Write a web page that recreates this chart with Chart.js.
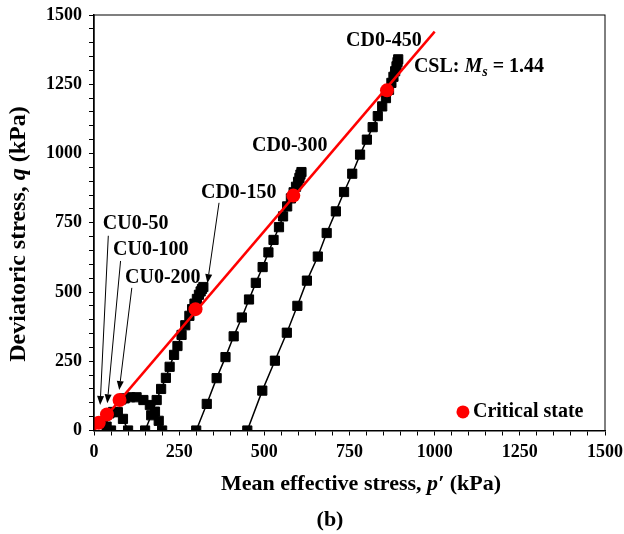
<!DOCTYPE html>
<html>
<head>
<meta charset="utf-8">
<script src="https://cdn.jsdelivr.net/npm/chart.js@4"></script>
<style>
  body { margin: 0; background: #fff; }
</style>
</head>
<body>
<canvas id="c" width="624" height="534"></canvas>
<script>
// stress paths, p' and q in kPa
const cu50P = [50, 37, 26, 18];
const cu50Q = [0, 14, 24, 29];
const cu100P = [100, 85, 70, 56, 45];
const cu100Q = [0, 42, 66, 67, 62];
const cu200P = [200, 190, 179, 164, 145, 125, 106, 90, 80];
const cu200Q = [0, 35, 68, 92, 110, 120, 120, 116, 112];
const cd150P = [150, 168, 184, 197, 211, 222, 235, 245, 257, 268, 280, 288, 295, 302, 308, 313, 317, 321];
const cd150Q = [0, 55, 110, 150, 190, 230, 273, 305, 345, 380, 414, 438, 458, 475, 490, 502, 511, 518];
const cd300P = [300, 331, 360, 386, 410, 434, 455, 475, 495, 512, 527, 543, 555, 567, 578, 586, 593, 599, 603, 606, 609];
const cd300Q = [0, 96, 189, 265, 340, 408, 473, 533, 590, 643, 688, 734, 773, 809, 838, 860, 880, 898, 912, 924, 933];
const cd450P = [450, 494, 531, 566, 597, 625, 657, 683, 710, 734, 758, 781, 801, 818, 833, 846, 857, 866, 873, 879, 884, 888, 891, 893];
const cd450Q = [0, 144, 252, 353, 450, 541, 628, 713, 791, 861, 927, 996, 1050, 1095, 1135, 1170, 1200, 1230, 1255, 1277, 1297, 1315, 1330, 1340];
const critP = [14, 38, 75, 298, 585, 860];
const critQ = [28, 58, 110, 438, 848, 1228];
const cslP = [0, 1000];
const cslQ = [0, 1440];

const axisMax = 1500;
const tickStep = 50;
const labelStep = 250;

// annotation anchors in data units
const pathLabels = [
  { text: 'CU0-50', p: 26, q: 746 },
  { text: 'CU0-100', p: 56, q: 652 },
  { text: 'CU0-200', p: 91, q: 551 },
  { text: 'CD0-150', p: 314, q: 858 },
  { text: 'CD0-300', p: 464, q: 1028 },
  { text: 'CD0-450', p: 740, q: 1408 }
];
const arrows = [
  { from: [42, 703], to: [18, 92] },
  { from: [78, 612], to: [39, 98] },
  { from: [111, 515], to: [74, 146] },
  { from: [367, 822], to: [333, 532] }
];

const serif = "'Liberation Serif', 'Times New Roman', serif";
const zip = (p, q) => p.map((v, i) => ({ x: v, y: q[i] }));

const pathSet = (p, q) => ({
  data: zip(p, q),
  showLine: true,
  borderColor: '#000',
  borderWidth: 1.5,
  backgroundColor: '#000',
  pointStyle: 'rect',
  pointRadius: 6.5,
  pointBorderWidth: 1,
  pointBorderColor: '#000'
});

const drawRuns = (ctx, runs, x, y, align) => {
  let w = 0;
  runs.forEach(r => { ctx.font = r.f; w += ctx.measureText(r.t).width; });
  let cx = align === 'center' ? x - w / 2 : x;
  runs.forEach(r => {
    ctx.font = r.f;
    ctx.fillText(r.t, cx, y + (r.dy || 0));
    cx += ctx.measureText(r.t).width;
  });
};

const decor = {
  id: 'decor',
  afterDraw(chart) {
    const { ctx, chartArea: a, scales: { x, y } } = chart;
    ctx.save();
    // frame
    ctx.strokeStyle = '#000';
    ctx.lineWidth = 1;
    ctx.strokeRect(a.left, a.top, a.right - a.left, a.bottom - a.top);

    ctx.fillStyle = '#000';
    ctx.textBaseline = 'middle';
    ctx.textAlign = 'left';
    ctx.font = 'bold 20px ' + serif;
    pathLabels.forEach(l => ctx.fillText(l.text, x.getPixelForValue(l.p), y.getPixelForValue(l.q)));

    // CSL label
    drawRuns(ctx, [
      { t: 'CSL: ', f: 'bold 20px ' + serif },
      { t: 'M', f: 'italic bold 20px ' + serif },
      { t: 's', f: 'italic bold 14px ' + serif, dy: 5 },
      { t: ' = 1.44', f: 'bold 20px ' + serif }
    ], x.getPixelForValue(939), y.getPixelForValue(1312), 'left');

    // arrows
    ctx.lineWidth = 1;
    arrows.forEach(ar => {
      const x0 = x.getPixelForValue(ar.from[0]), y0 = y.getPixelForValue(ar.from[1]);
      const x1 = x.getPixelForValue(ar.to[0]), y1 = y.getPixelForValue(ar.to[1]);
      const ang = Math.atan2(y1 - y0, x1 - x0);
      const hl = 9, hw = 3.5;
      ctx.beginPath();
      ctx.moveTo(x0, y0);
      ctx.lineTo(x1 - hl * Math.cos(ang), y1 - hl * Math.sin(ang));
      ctx.stroke();
      ctx.beginPath();
      ctx.moveTo(x1, y1);
      ctx.lineTo(x1 - hl * Math.cos(ang) + hw * Math.sin(ang), y1 - hl * Math.sin(ang) - hw * Math.cos(ang));
      ctx.lineTo(x1 - hl * Math.cos(ang) - hw * Math.sin(ang), y1 - hl * Math.sin(ang) + hw * Math.cos(ang));
      ctx.closePath();
      ctx.fill();
    });

    // legend
    const lx = x.getPixelForValue(1083), ly = y.getPixelForValue(67);
    ctx.fillStyle = '#ff0000';
    ctx.beginPath();
    ctx.arc(lx, ly, 6.5, 0, Math.PI * 2);
    ctx.fill();
    ctx.fillStyle = '#000';
    ctx.font = 'bold 20px ' + serif;
    ctx.fillText('Critical state', lx + 10, ly);

    // axis titles
    drawRuns(ctx, [
      { t: 'Mean effective stress, ', f: 'bold 22px ' + serif },
      { t: 'p\u2032', f: 'italic bold 22px ' + serif },
      { t: ' (kPa)', f: 'bold 22px ' + serif }
    ], 361, 484, 'center');

    ctx.save();
    ctx.translate(19, 234);
    ctx.rotate(-Math.PI / 2);
    drawRuns(ctx, [
      { t: 'Deviatoric stress, ', f: 'bold 24px ' + serif },
      { t: 'q', f: 'italic bold 24px ' + serif },
      { t: ' (kPa)', f: 'bold 24px ' + serif }
    ], 0, 0, 'center');
    ctx.restore();

    ctx.font = 'bold 22px ' + serif;
    ctx.textAlign = 'center';
    ctx.fillText('(b)', 330, 520);
    ctx.restore();
  }
};

const tickOpts = {
  stepSize: tickStep,
  autoSkip: false,
  maxRotation: 0,
  color: '#000',
  font: { family: serif, size: 18, weight: 'bold' },
  callback: v => (v % labelStep === 0 ? String(v) : '')
};

new Chart(document.getElementById('c'), {
  type: 'scatter',
  data: {
    datasets: [
      {
        data: zip(critP, critQ),
        pointStyle: 'circle',
        pointRadius: 7,
        backgroundColor: '#ff0000',
        borderColor: '#ff0000',
        pointBorderWidth: 0
      },
      {
        data: zip(cslP, cslQ),
        showLine: true,
        borderColor: '#ff0000',
        borderWidth: 2.5,
        pointRadius: 0
      },
      pathSet(cu50P, cu50Q),
      pathSet(cu100P, cu100Q),
      pathSet(cu200P, cu200Q),
      pathSet(cd150P, cd150Q),
      pathSet(cd300P, cd300Q),
      pathSet(cd450P, cd450Q)
    ]
  },
  options: {
    responsive: false,
    animation: false,
    devicePixelRatio: 1,
    layout: { padding: { top: 15, right: 19, left: 0, bottom: 0 } },
    plugins: { legend: { display: false }, tooltip: { enabled: false } },
    scales: {
      x: {
        type: 'linear',
        min: 0,
        max: axisMax,
        ticks: Object.assign({ padding: 6 }, tickOpts),
        grid: { drawOnChartArea: false, drawTicks: true, tickLength: 5, tickColor: '#000', color: '#000' },
        border: { color: '#000', width: 1.5 },
        afterFit: s => { s.height = 103.5; s.paddingRight = 0; s.paddingLeft = 0; }
      },
      y: {
        type: 'linear',
        min: 0,
        max: axisMax,
        ticks: Object.assign({ padding: 7 }, tickOpts),
        grid: { drawOnChartArea: false, drawTicks: true, tickLength: 5, tickColor: '#000', color: '#000' },
        border: { color: '#000', width: 1.5 },
        afterFit: s => { s.width = 94; s.paddingTop = 0; s.paddingBottom = 0; }
      }
    }
  },
  plugins: [decor]
});
</script>
</body>
</html>
